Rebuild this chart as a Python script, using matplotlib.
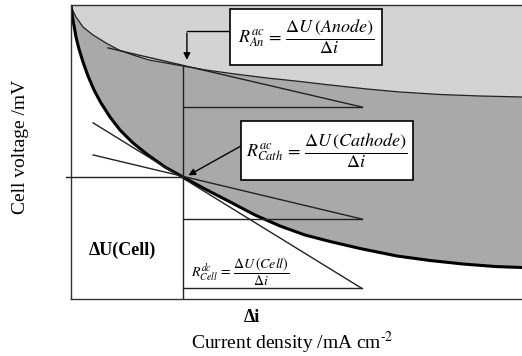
import numpy as np
import matplotlib
matplotlib.use('Agg')
import matplotlib.pyplot as plt
from matplotlib.patches import Rectangle

plt.rcParams['font.family'] = ['Liberation Serif', 'DejaVu Serif']
plt.rcParams['mathtext.fontset'] = 'stix'

# curves (current density vs cell voltage, arbitrary units)
cell_i = [0, 0.44, 1.11, 1.77, 2.66, 3.77, 5.10, 6.65, 8.65, 10.86, 13.75, 17.07, 20.84,
          24.83, 29.71, 35.25, 40.80, 46.34, 51.88, 57.43, 64.08, 72.28, 79.60, 86.92, 94.01, 100]
cell_u = [100, 94.90, 89.12, 85.03, 80.61, 75.85, 71.09, 66.67, 61.90, 57.48, 53.06, 48.98, 44.90,
          41.50, 37.41, 33.04, 28.57, 24.83, 21.77, 19.56, 17.18, 14.63, 13.10, 11.90, 11.05, 10.71]
anode_i = [0, 0.22, 1.11, 2.66, 4.88, 7.76, 10.64, 13.75, 17.29, 21.06, 24.83, 29.93, 36.36,
           43.46, 50.78, 57.43, 65.63, 72.95, 81.82, 90.69, 100]
anode_u = [100, 98.64, 95.92, 92.52, 89.80, 87.07, 84.69, 82.99, 81.29, 80.27, 79.25, 77.89, 76.53,
           75.17, 73.98, 72.79, 71.43, 70.41, 69.56, 69.05, 68.71]

# operating point and the three slopes
i0, u0 = 24.8, 41.5
u_anode = 79.25
anode_tan_i = [8.2, 64.5]
anode_tan_u = [85.4, 65.3]
cath_tan_i = [4.9, 64.5]
cath_tan_u = [49.0, 27.2]
cell_dc_i = [4.9, 64.5]
cell_dc_u = [59.9, 3.6]

fig = plt.figure(figsize=(5.22, 3.56), dpi=100)
ax = fig.add_axes([71/522, 57/356, 451/522, 294/356])
ax.set_xlim(0, 100)
ax.set_ylim(0, 100)

ci = np.array(cell_i)
cu = np.array(cell_u)
ai = np.array(anode_i)
au = np.array(anode_u)

ax.fill_between(ai, au, 100, color='#d3d3d3', lw=0)
ax.fill(np.r_[ai, ci[::-1]], np.r_[au, cu[::-1]], color='#a9a9a9', lw=0)
ax.plot(ai, au, color='#222222', lw=0.9)
ax.plot(ci, cu, color='black', lw=2.2, solid_capstyle='butt', solid_joinstyle='round')

lc = '#222222'
ax.plot(anode_tan_i, anode_tan_u, color=lc, lw=1.0)
ax.plot([i0, anode_tan_i[1]], [anode_tan_u[1]] * 2, color=lc, lw=1.0)
ax.plot(cath_tan_i, cath_tan_u, color=lc, lw=1.0)
ax.plot([i0, cath_tan_i[1]], [cath_tan_u[1]] * 2, color=lc, lw=1.0)
ax.plot(cell_dc_i, cell_dc_u, color=lc, lw=1.0)
ax.plot([i0, cell_dc_i[1]], [cell_dc_u[1]] * 2, color=lc, lw=1.0)
ax.plot([i0, i0], [0, u_anode], color=lc, lw=1.0)
ax.plot([-1.2, i0], [u0, u0], color=lc, lw=1.0, clip_on=False)

# formula boxes
ax.add_patch(Rectangle((35.3, 79.6), 33.7, 19.0, fc='white', ec='black', lw=1.2, zorder=4))
ax.text(52.2, 89.1, r'$R^{ac}_{An}\,=\,\dfrac{\Delta U\,(Anode)}{\Delta i}$',
        fontsize=13, ha='center', va='center', zorder=5)
ax.add_patch(Rectangle((37.7, 40.5), 38.1, 20.0, fc='white', ec='black', lw=1.2, zorder=4))
ax.text(56.7, 50.5, r'$R^{ac}_{Cath}\,=\,\dfrac{\Delta U\,(Cathode)}{\Delta i}$',
        fontsize=13, ha='center', va='center', zorder=5)

ax.plot([35.3, 25.7], [91.2, 91.2], color='black', lw=1.0)
ax.annotate('', xy=(25.7, 80.4), xytext=(25.7, 91.4),
            arrowprops=dict(arrowstyle='-|>', color='black', lw=1.0, mutation_scale=10))
ax.annotate('', xy=(25.5, 41.6), xytext=(38.1, 52.4),
            arrowprops=dict(arrowstyle='-|>', color='black', lw=1.0, mutation_scale=10))

ax.text(37.5, 9.2, r'$R^{dc}_{Cell}\,=\,\dfrac{\Delta U\,(Cell)}{\Delta i}$',
        fontsize=10, ha='center', va='center')
ax.text(11.5, 16.5, 'ΔU(Cell)', fontsize=13, fontweight='bold', ha='center', va='center')

ax.spines['right'].set_visible(False)
for s in ['left', 'bottom', 'top']:
    ax.spines[s].set_color('#333333')
    ax.spines[s].set_linewidth(1.0)
ax.set_xticks([])
ax.set_yticks([])

fig.text(252/522, 1 - 318/356, 'Δi', fontsize=13, fontweight='bold', ha='center', va='center')
fig.text(292/522, 1 - 343/356, r'Current density /mA cm$^{\text{-2}}$', fontsize=14, ha='center', va='center')
fig.text(21/522, 1 - 147/356, 'Cell voltage /mV', fontsize=14, rotation=90, ha='center', va='center')

plt.savefig('out.png', dpi=100)
